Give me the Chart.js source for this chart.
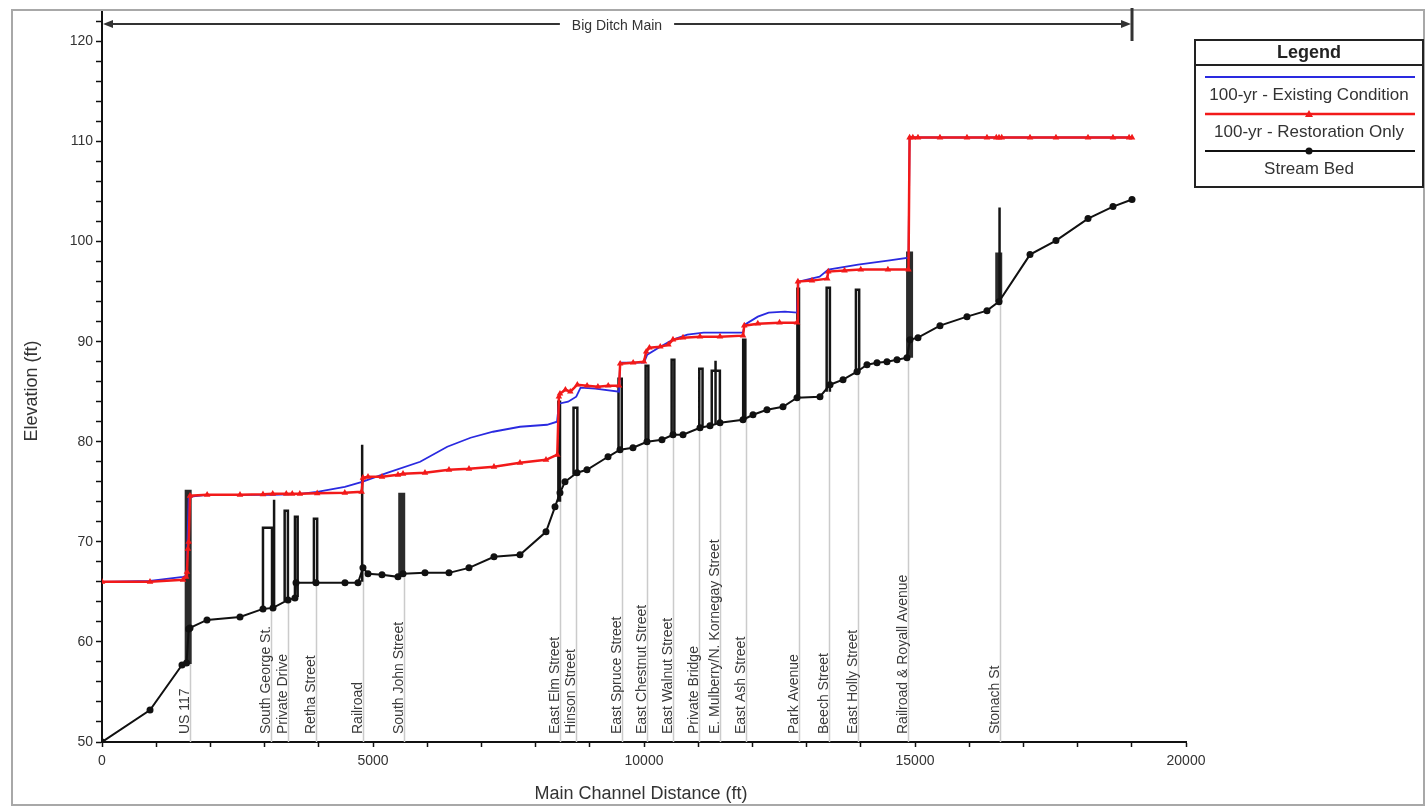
<!DOCTYPE html>
<html>
<head>
<meta charset="utf-8">
<title>Big Ditch Main - profile</title>
<script src="https://cdn.jsdelivr.net/npm/chart.js@4.4.1/dist/chart.umd.min.js"></script>
<style>
  html, body { margin: 0; padding: 0; background: #fff; }
  #wrap { position: relative; width: 1425px; height: 807px; }
</style>
</head>
<body>
<div id="wrap"><canvas id="profile"></canvas></div>
<script>
const FONT = '"Liberation Sans", Arial, sans-serif';

// stream bed (main channel distance ft / elevation ft)
const bedStations = [0, 886, 1476, 1560, 1600, 1624, 1937, 2546, 2970, 3155, 3432,
    3560, 3580, 3948, 4483, 4723, 4815, 4908, 5166, 5461, 5554,
    5959, 6402, 6771, 7232, 7712, 8192, 8358, 8450, 8542, 8764,
    8948, 9336, 9557, 9797, 10055, 10332, 10535, 10720, 11033, 11218,
    11402, 11827, 12011, 12269, 12565, 12823, 13247, 13432, 13672, 13930,
    14114, 14299, 14483, 14668, 14852, 14908, 15055, 15461, 15959, 16328,
    16550, 17122, 17601, 18192, 18653, 19004];
const bedElev = [50.0, 53.2, 57.7, 57.9, 61.3, 61.4, 62.2, 62.5, 63.3, 63.4, 64.2,
    64.4, 65.9, 65.9, 65.9, 65.9, 67.4, 66.8, 66.7, 66.5, 66.8,
    66.9, 66.9, 67.4, 68.5, 68.7, 71.0, 73.5, 74.9, 76.0, 76.9,
    77.2, 78.5, 79.2, 79.4, 80.0, 80.2, 80.7, 80.7, 81.4, 81.6,
    81.9, 82.2, 82.7, 83.2, 83.5, 84.4, 84.5, 85.7, 86.2, 87.0,
    87.7, 87.9, 88.0, 88.2, 88.4, 90.2, 90.4, 91.6, 92.5, 93.1,
    94.0, 98.7, 100.1, 102.3, 103.5, 104.2];

// 100-yr water surface, existing condition
const existingStations = [0, 886, 1495, 1560, 1600, 1940, 2546, 3150, 3650, 3970,
    4480, 4800, 5260, 5870, 6370, 6800, 7215, 7712, 8210, 8395,
    8430, 8600, 8750, 8830, 9100, 9540, 9560, 10000, 10060, 10300,
    10535, 10800, 11100, 11827, 11860, 12100, 12300, 12600, 12823, 12850,
    13240, 13400, 13950, 14500, 14880, 14900, 19004];
const existingElev = [66.0, 66.1, 66.5, 66.6, 74.5, 74.7, 74.7, 74.7, 74.8, 75.0,
    75.5, 76.0, 76.9, 78.0, 79.5, 80.4, 81.0, 81.5, 81.7, 82.0,
    83.8, 84.0, 84.5, 85.4, 85.3, 85.0, 87.9, 87.9, 88.7, 89.5,
    90.2, 90.7, 90.9, 90.9, 91.7, 92.5, 92.9, 93.0, 92.9, 96.0,
    96.5, 97.2, 97.7, 98.1, 98.4, 110.4, 110.4];

// 100-yr water surface, restoration only
const restorationStations = [0, 886, 1495, 1550, 1568, 1585, 1600, 1624, 1940, 2546,
    2970, 3150, 3400, 3510, 3650, 3970, 4480, 4790, 4815, 4908,
    5166, 5461, 5554, 5959, 6402, 6771, 7232, 7712, 8192, 8400,
    8430, 8450, 8550, 8640, 8770, 8950, 9150, 9340, 9540, 9560,
    9800, 10000, 10040, 10100, 10300, 10450, 10535, 10720, 11033, 11402,
    11827, 11850, 12100, 12500, 12823, 12840, 13100, 13380, 13400, 13700,
    14000, 14500, 14880, 14900, 14960, 15055, 15461, 15959, 16328, 16500,
    16550, 16600, 17122, 17601, 18192, 18653, 18950, 19004];
const restorationElev = [66.0, 66.0, 66.2, 66.5, 67.0, 69.3, 70.0, 74.6, 74.7, 74.7,
    74.75, 74.8, 74.8, 74.8, 74.8, 74.85, 74.9, 75.0, 76.4, 76.5,
    76.5, 76.7, 76.8, 76.9, 77.2, 77.3, 77.5, 77.9, 78.2, 78.7,
    84.5, 84.8, 85.2, 85.0, 85.7, 85.6, 85.5, 85.6, 85.6, 87.8,
    87.9, 88.0, 89.0, 89.4, 89.5, 89.7, 90.2, 90.4, 90.5, 90.5,
    90.6, 91.6, 91.8, 91.9, 91.9, 96.0, 96.1, 96.3, 97.0, 97.1,
    97.2, 97.2, 97.2, 110.4, 110.4, 110.4, 110.4, 110.4, 110.4, 110.4,
    110.4, 110.4, 110.4, 110.4, 110.4, 110.4, 110.4, 110.4];

// bridge / culvert structures drawn as outlines (left, right station, low and top elevation)
const structLeft  = [2970, 3175, 3370, 3560, 3910, 4800, 8420, 8700, 9530, 10030,
    10510, 11020, 11250, 11320, 11830, 12830, 13370, 13910, 16560];
const structRight = [3137, 3175, 3430, 3610, 3970, 4800, 8450, 8770, 9590, 10080,
    10560, 11080, 11400, 11320, 11870, 12860, 13430, 13970, 16560];
const structLow   = [63.3, 63.4, 64.1, 64.5, 65.9, 66.0, 74.0, 76.7, 79.1, 79.9,
    80.6, 81.4, 81.7, 81.8, 82.2, 84.4, 85.0, 86.9, 94.0];
const structTop   = [71.4, 74.2, 73.1, 72.5, 72.3, 79.7, 84.0, 83.4, 86.3, 87.6,
    88.2, 87.3, 87.1, 88.1, 90.2, 95.3, 95.4, 95.2, 103.4];

// heavier structures (solid decks)
const deckStations = [1590, 5530, 14900, 16545];
const deckLow      = [57.8, 66.6, 88.4, 94.0];
const deckTop      = [75.2, 74.9, 99.0, 98.9];

// road crossing labels
const crossingNames = ['US 117', 'South George St.', 'Private Drive', 'Retha Street', 'Railroad',
    'South John Street', 'East Elm Street', 'Hinson Street', 'East Spruce Street',
    'East Chestnut Street', 'East Walnut Street', 'Private Bridge',
    'E. Mulberry/N. Kornegay Street', 'East Ash Street', 'Park Avenue', 'Beech Street',
    'East Holly Street', 'Railroad & Royall Avenue', 'Stonach St'];
const crossingStations = [1625, 3110, 3430, 3950, 4815, 5570, 8450, 8745, 9590,
    10055, 10535, 11015, 11400, 11880, 12860, 13415, 13950, 14870, 16570];

const reachName = 'Big Ditch Main';

const toPoints = (xs, ys) => xs.map((x, i) => ({ x: x, y: ys[i] }));

const structPoints = [];
structLeft.forEach((l, i) => {
    structPoints.push({ x: l, y: structLow[i] }, { x: l, y: structTop[i] },
        { x: structRight[i], y: structTop[i] }, { x: structRight[i], y: structLow[i] },
        { x: structRight[i], y: null });
});
const deckPoints = [];
deckStations.forEach((s, i) => {
    deckPoints.push({ x: s, y: deckLow[i] }, { x: s, y: deckTop[i] }, { x: s, y: null });
});

function bedAt(st) {
    for (let i = 1; i < bedStations.length; i++) {
        if (st <= bedStations[i]) {
            const t = (st - bedStations[i - 1]) / (bedStations[i] - bedStations[i - 1]);
            return bedElev[i - 1] + t * (bedElev[i] - bedElev[i - 1]);
        }
    }
    return bedElev[bedElev.length - 1];
}

const profileDecor = {
    id: 'profileDecor',
    beforeDatasetsDraw(chart) {
        const { ctx, scales: { x, y } } = chart;
        ctx.save();
        ctx.font = '14px ' + FONT;
        ctx.textAlign = 'left';
        ctx.textBaseline = 'alphabetic';
        crossingStations.forEach((st, i) => {
            const px = Math.round(x.getPixelForValue(st)) + 0.5;
            ctx.strokeStyle = '#cbcbcb';
            ctx.lineWidth = 1.5;
            ctx.beginPath();
            ctx.moveTo(px, y.bottom);
            ctx.lineTo(px, y.getPixelForValue(bedAt(st)));
            ctx.stroke();
            ctx.save();
            ctx.translate(px - 2, y.bottom - 8);
            ctx.rotate(-Math.PI / 2);
            ctx.fillStyle = '#3a3a3a';
            ctx.fillText(crossingNames[i], 0, 0);
            ctx.restore();
        });
        ctx.restore();
    },
    afterDraw(chart) {
        const { ctx, scales: { x, y } } = chart;
        ctx.save();

        // outer frame
        ctx.strokeStyle = '#a8a8a8';
        ctx.lineWidth = 2;
        ctx.strokeRect(12, 10, 1412, 795);

        // reach extent arrow
        const x0 = x.getPixelForValue(bedStations[0]);
        const x1 = x.getPixelForValue(bedStations[bedStations.length - 1]);
        const ay = 24;
        ctx.font = '14px ' + FONT;
        const tw = ctx.measureText(reachName).width;
        const tx = 617;
        ctx.strokeStyle = '#333';
        ctx.fillStyle = '#333';
        ctx.lineWidth = 2;
        ctx.beginPath();
        ctx.moveTo(x0 + 6, ay); ctx.lineTo(tx - tw / 2 - 12, ay);
        ctx.moveTo(tx + tw / 2 + 12, ay); ctx.lineTo(x1 - 6, ay);
        ctx.stroke();
        ctx.beginPath();
        ctx.moveTo(x0 + 1, ay); ctx.lineTo(x0 + 11, ay - 4); ctx.lineTo(x0 + 11, ay + 4); ctx.closePath();
        ctx.moveTo(x1 - 1, ay); ctx.lineTo(x1 - 11, ay - 4); ctx.lineTo(x1 - 11, ay + 4); ctx.closePath();
        ctx.fill();
        ctx.lineWidth = 3;
        ctx.beginPath();
        ctx.moveTo(x1, 8); ctx.lineTo(x1, 41);
        ctx.stroke();
        ctx.textAlign = 'center';
        ctx.textBaseline = 'middle';
        ctx.fillText(reachName, tx, ay + 2);

        // axis titles
        ctx.fillStyle = '#333';
        ctx.font = '18px ' + FONT;
        ctx.fillText('Main Channel Distance (ft)', 641, 794);
        ctx.save();
        ctx.translate(32, 391);
        ctx.rotate(-Math.PI / 2);
        ctx.fillText('Elevation (ft)', 0, 0);
        ctx.restore();

        // legend box
        const lx = 1195, ly = 40, lw = 228, lh = 147;
        ctx.strokeStyle = '#222';
        ctx.lineWidth = 2;
        ctx.strokeRect(lx, ly, lw, lh);
        ctx.beginPath();
        ctx.moveTo(lx, 65); ctx.lineTo(lx + lw, 65);
        ctx.stroke();
        ctx.fillStyle = '#222';
        ctx.font = 'bold 18px ' + FONT;
        ctx.fillText('Legend', lx + lw / 2, 53);
        const cx = lx + lw / 2;
        chart.data.datasets.slice(0, 3).forEach((ds, i) => {
            const lineY = 77 + i * 37;
            ctx.strokeStyle = ds.borderColor;
            ctx.lineWidth = ds.borderWidth;
            ctx.beginPath();
            ctx.moveTo(lx + 10, lineY); ctx.lineTo(lx + lw - 8, lineY);
            ctx.stroke();
            ctx.fillStyle = ds.borderColor;
            if (ds.pointStyle === 'triangle') {
                ctx.beginPath();
                ctx.moveTo(cx, lineY - 4); ctx.lineTo(cx - 4, lineY + 3); ctx.lineTo(cx + 4, lineY + 3);
                ctx.closePath(); ctx.fill();
            } else if (ds.pointRadius > 0) {
                ctx.beginPath();
                ctx.arc(cx, lineY, 3.5, 0, Math.PI * 2);
                ctx.fill();
            }
            ctx.fillStyle = '#333';
            ctx.font = '17px ' + FONT;
            ctx.fillText(ds.label, cx, lineY + 18);
        });
        ctx.restore();
    }
};

new Chart(document.getElementById('profile'), {
    type: 'line',
    data: {
        datasets: [
            {
                label: '100-yr - Existing Condition',
                data: toPoints(existingStations, existingElev),
                borderColor: '#2a2ae0',
                borderWidth: 1.8,
                pointRadius: 0,
                order: 2
            },
            {
                label: '100-yr - Restoration Only',
                data: toPoints(restorationStations, restorationElev),
                borderColor: '#f21a1a',
                backgroundColor: '#f21a1a',
                borderWidth: 2.5,
                pointStyle: 'triangle',
                pointRadius: 3.8,
                pointBorderWidth: 0,
                order: 1
            },
            {
                label: 'Stream Bed',
                data: toPoints(bedStations, bedElev),
                borderColor: '#111',
                backgroundColor: '#111',
                borderWidth: 2,
                pointStyle: 'circle',
                pointRadius: 3.5,
                pointBorderWidth: 0,
                order: 3
            },
            {
                label: 'structures',
                data: structPoints,
                borderColor: '#151515',
                borderWidth: 2.5,
                pointRadius: 0,
                spanGaps: false,
                order: 4
            },
            {
                label: 'decks',
                data: deckPoints,
                borderColor: '#2b2b2b',
                borderWidth: 7,
                pointRadius: 0,
                spanGaps: false,
                order: 5
            }
        ]
    },
    options: {
        responsive: true,
        maintainAspectRatio: false,
        animation: false,
        events: [],
        layout: { padding: { left: 0, top: 10, right: 239, bottom: 0 } },
        elements: { line: { tension: 0 } },
        plugins: {
            legend: { display: false },
            tooltip: { enabled: false }
        },
        scales: {
            x: {
                type: 'linear',
                min: 0,
                max: 20000,
                afterFit: s => { s.height = 65; },
                border: { display: true, color: '#111', width: 2 },
                grid: { drawOnChartArea: false, tickLength: 5, tickColor: '#111', tickWidth: 1.5 },
                ticks: {
                    stepSize: 1000,
                    autoSkip: false,
                    maxRotation: 0,
                    padding: 6,
                    color: '#333',
                    font: { family: FONT, size: 14 },
                    callback: v => (v % 5000 === 0 ? String(v) : '')
                }
            },
            y: {
                min: 50,
                max: 123,
                afterFit: s => { s.width = 102; },
                border: { display: true, color: '#111', width: 2 },
                grid: { drawOnChartArea: false, tickLength: 6, tickColor: '#111', tickWidth: 1.5 },
                ticks: {
                    stepSize: 2,
                    includeBounds: false,
                    autoSkip: false,
                    padding: 3,
                    color: '#333',
                    font: { family: FONT, size: 14 },
                    callback: v => (v % 10 === 0 ? String(v) : '')
                }
            }
        }
    },
    plugins: [profileDecor]
});
</script>
</body>
</html>
